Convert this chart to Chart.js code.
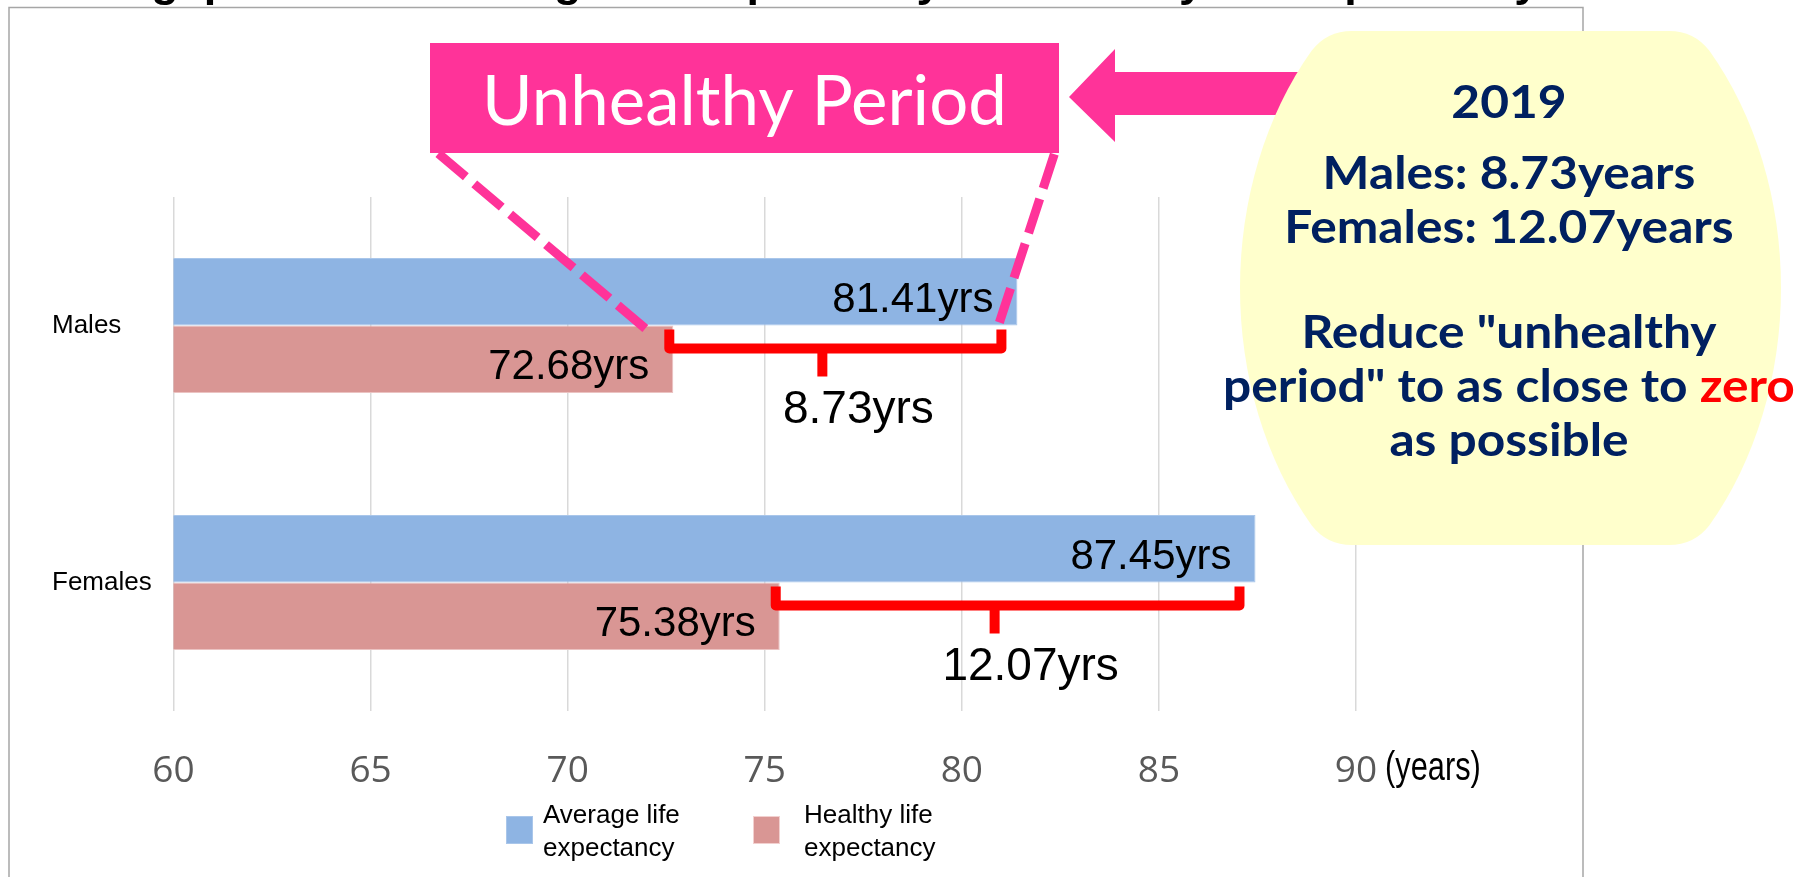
<!DOCTYPE html>
<html>
<head>
<meta charset="utf-8">
<script src="https://cdn.jsdelivr.net/npm/chart.js@4.4.1/dist/chart.umd.min.js"></script>
<style>
  html, body { margin: 0; padding: 0; background: #fff; }
</style>
</head>
<body>
<canvas id="lifeChart" width="1803" height="877"></canvas>
<script>
// data
const categories = ['Males', 'Females'];
const averageLife = [81.41, 87.45];
const healthyLife = [72.68, 75.38];
const xTicks = [60, 65, 70, 75, 80, 85, 90];
const seriesNames = ['Average life expectancy', 'Healthy life expectancy'];
const legendLines = [['Average life', 'expectancy'], ['Healthy life', 'expectancy']];
const titleText = 'The gap between average life expectancy and healthy life expectancy';
const calloutText = 'Unhealthy Period';
const noteYear = '2019';

const blue = '#8EB4E3';
const rose = '#D99694';
const pink = '#FF3399';
const navy = '#002060';
const arial = '"Liberation Sans", Arial, sans-serif';

// yellow note shape: an ellipse cut flat at top and bottom, corners softened
function notePath(c, cx, cy, rx, ry, top, bottom) {
  const t0 = Math.asin((cy - top) / ry);
  const d = 0.08;
  const r = 25;
  const pt = a => [cx + rx * Math.cos(a), cy + ry * Math.sin(a)];
  const xr = cx + rx * Math.cos(t0);
  const xl = cx - rx * Math.cos(t0);
  c.beginPath();
  c.moveTo(xl + r, top);
  c.lineTo(xr - r, top);
  let p = pt(-t0 + d);
  c.quadraticCurveTo(xr, top, p[0], p[1]);
  c.ellipse(cx, cy, rx, ry, 0, -t0 + d, t0 - d);
  c.quadraticCurveTo(xr, bottom, xr - r, bottom);
  c.lineTo(xl + r, bottom);
  p = pt(Math.PI - t0 + d);
  c.quadraticCurveTo(xl, bottom, p[0], p[1]);
  c.ellipse(cx, cy, rx, ry, 0, Math.PI - t0 + d, Math.PI + t0 - d);
  c.quadraticCurveTo(xl, top, xl + r, top);
  c.closePath();
}

// everything drawn around the bars
const annotations = {
  id: 'annotations',
  beforeDraw(chart) {
    const c = chart.ctx;
    c.save();
    c.fillStyle = '#fff';
    c.fillRect(0, 0, chart.width, chart.height);
    // outer frame
    c.strokeStyle = '#A6A6A6';
    c.lineWidth = 1.5;
    c.strokeRect(9, 7.5, 1574, 900);
    // title, mostly cut off at the top
    c.font = 'bold 45px ' + arial;
    c.fillStyle = '#000';
    c.textAlign = 'center';
    c.textBaseline = 'alphabetic';
    c.fillText(titleText, 799, -4);
    c.restore();
  },
  afterDatasetsDraw(chart) {
    const c = chart.ctx;
    const x = chart.scales.x;
    const avgMeta = chart.getDatasetMeta(0);
    const hlMeta = chart.getDatasetMeta(1);
    c.save();
    c.textBaseline = 'alphabetic';

    // value labels inside the bars
    c.font = '42px ' + arial;
    c.fillStyle = '#000';
    c.textAlign = 'right';
    [avgMeta, hlMeta].forEach((meta, di) => {
      const vals = di === 0 ? averageLife : healthyLife;
      meta.data.forEach((el, i) => {
        c.fillText(vals[i].toFixed(2) + 'yrs', el.x - 24, el.y + 20);
      });
    });

    // red brackets showing the gap
    categories.forEach((cat, i) => {
      const b = avgMeta.data[i];
      const bottom = b.y + b.height / 2;
      const xl = x.getPixelForValue(healthyLife[i]) - 4;
      const xr = x.getPixelForValue(averageLife[i]) - 16;
      const top = bottom + 4;
      const hy = bottom + 23;
      const mid = (xl + xr) / 2 - 13;
      c.strokeStyle = '#FF0000';
      c.lineWidth = 10;
      c.lineJoin = 'round';
      c.beginPath();
      c.moveTo(xl, top);
      c.lineTo(xl, hy);
      c.lineTo(xr, hy);
      c.lineTo(xr, top);
      c.stroke();
      c.beginPath();
      c.moveTo(mid, hy);
      c.lineTo(mid, hy + 28);
      c.stroke();
      c.font = '46px ' + arial;
      c.fillStyle = '#000';
      c.textAlign = 'center';
      c.fillText((averageLife[i] - healthyLife[i]).toFixed(2) + 'yrs', mid + 36, hy + 74);
    });

    // dashed lines from the male gap up to the callout (drawn upward so a dash touches the bars)
    const mb = avgMeta.data[0];
    const mBottom = mb.y + mb.height / 2;
    c.strokeStyle = pink;
    c.lineWidth = 9;
    c.lineCap = 'butt';
    c.setLineDash([36, 11]);
    c.beginPath();
    c.moveTo(x.getPixelForValue(healthyLife[0]) - 28, mBottom + 3);
    c.lineTo(433, 149);
    c.stroke();
    c.beginPath();
    c.moveTo(x.getPixelForValue(averageLife[0]) - 18, mBottom - 3);
    c.lineTo(1056, 149);
    c.stroke();
    c.setLineDash([]);

    // callout box
    c.fillStyle = pink;
    c.fillRect(430, 43, 629, 110);
    c.font = '69px Lato, "Open Sans", sans-serif';
    c.fillStyle = '#fff';
    c.textAlign = 'center';
    c.fillText(calloutText, 744.5, 125);

    // arrow pointing at the callout
    c.fillStyle = pink;
    c.beginPath();
    c.moveTo(1069, 97);
    c.lineTo(1115, 49);
    c.lineTo(1115, 72);
    c.lineTo(1320, 72);
    c.lineTo(1320, 115);
    c.lineTo(1115, 115);
    c.lineTo(1115, 142);
    c.closePath();
    c.fill();

    // yellow note
    c.fillStyle = '#FFFFCC';
    notePath(c, 1510.5, 288, 270.5, 350, 31, 545);
    c.fill();

    const cx = 1509;
    const sx = 1.08;
    const line = (t, y) => {
      c.save();
      c.translate(cx, y);
      c.scale(sx, 1);
      c.fillText(t, 0, 0);
      c.restore();
    };
    c.font = 'bold 46px Lato, "Open Sans", sans-serif';
    c.fillStyle = navy;
    c.textAlign = 'center';
    line(noteYear, 118);
    line('Males: ' + (averageLife[0] - healthyLife[0]).toFixed(2) + 'years', 189);
    line('Females: ' + (averageLife[1] - healthyLife[1]).toFixed(2) + 'years', 243);
    line('Reduce "unhealthy', 348);
    const partA = 'period" to as close to ';
    const partB = 'zero';
    const wA = c.measureText(partA).width;
    const wB = c.measureText(partB).width;
    c.save();
    c.translate(cx, 402);
    c.scale(sx, 1);
    c.textAlign = 'left';
    c.fillText(partA, -(wA + wB) / 2, 0);
    c.fillStyle = '#FF0000';
    c.fillText(partB, -(wA + wB) / 2 + wA, 0);
    c.restore();
    c.fillStyle = navy;
    c.textAlign = 'center';
    line('as possible', 456);

    // unit after the last tick
    c.save();
    c.translate(x.getPixelForValue(xTicks[xTicks.length - 1]) + 29, 780);
    c.scale(0.77, 1);
    c.font = '40px ' + arial;
    c.fillStyle = '#000';
    c.textAlign = 'left';
    c.fillText('(years)', 0, 0);
    c.restore();

    // legend
    const legendX = [507, 754];
    const textX = [543, 804];
    const colors = [blue, rose];
    const edges = ['#A9C6EA', '#F2D0CF'];
    c.font = '26px ' + arial;
    c.textAlign = 'left';
    legendLines.forEach((lines, i) => {
      c.fillStyle = edges[i];
      c.fillRect(legendX[i] - 1, 816, 27, 28);
      c.fillStyle = colors[i];
      c.fillRect(legendX[i], 817, 25, 26);
      c.fillStyle = '#000';
      lines.forEach((t, k) => c.fillText(t, textX[i], 823 + k * 33));
    });

    c.restore();
  }
};

const ctx = document.getElementById('lifeChart').getContext('2d');

new Chart(ctx, {
  type: 'bar',
  data: {
    labels: categories,
    datasets: [
      {
        label: seriesNames[0],
        data: averageLife,
        backgroundColor: blue,
        borderColor: '#A9C6EA',
        borderWidth: 1,
        categoryPercentage: 0.525,
        barPercentage: 1
      },
      {
        label: seriesNames[1],
        data: healthyLife,
        backgroundColor: rose,
        borderColor: '#EBC3C2',
        borderWidth: 1,
        categoryPercentage: 0.525,
        barPercentage: 1
      }
    ]
  },
  options: {
    indexAxis: 'y',
    responsive: false,
    animation: false,
    layout: { padding: { left: 52, top: 197, right: 447, bottom: 0 } },
    plugins: {
      legend: { display: false },
      tooltip: { enabled: false }
    },
    scales: {
      x: {
        min: 60,
        max: 90,
        grid: { color: '#D9D9D9', lineWidth: 1.5, drawTicks: false },
        border: { display: false },
        ticks: {
          font: { family: 'Open Sans', size: 37 },
          color: '#595959',
          padding: 38
        },
        afterBuildTicks: s => { s.ticks = xTicks.map(v => ({ value: v })); },
        afterFit: s => { s.height = 166; }
      },
      y: {
        grid: { display: false },
        border: { display: false },
        ticks: {
          crossAlign: 'far',
          font: { family: 'Liberation Sans', size: 26 },
          color: '#000'
        },
        afterFit: s => { s.width = 121.5; }
      }
    }
  },
  plugins: [annotations]
});
</script>
</body>
</html>
